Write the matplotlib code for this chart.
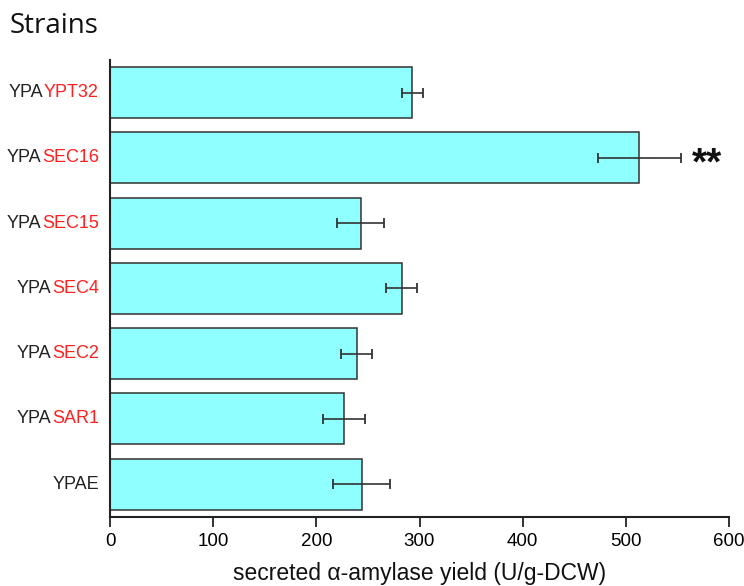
import matplotlib.pyplot as plt

plt.rcParams['font.family'] = ['Liberation Sans', 'DejaVu Sans']

# bottom to top
genes = ['', 'SAR1', 'SEC2', 'SEC4', 'SEC15', 'SEC16', 'YPT32']
yields = [244, 227, 239, 283, 243, 513, 293]
errors = [27.5, 20.5, 15, 15, 22.5, 40, 10]
signif = ['', '', '', '', '', '**', '']

fig = plt.figure(figsize=(7.44, 5.86), dpi=100)
ax = fig.add_axes([110/744, 1-516.7/586, 619/744, 456.7/586])

pos = list(range(len(genes)))
ax.barh(pos, yields, height=0.78, color='#8FFFFF', edgecolor='#333333', linewidth=1.1, zorder=2)
ax.errorbar(yields, pos, xerr=errors, fmt='none', ecolor='#333333', elinewidth=1.2,
            capsize=3.5, capthick=1.3, zorder=3)

ax.set_xlim(0, 600)
ax.set_ylim(-0.5, len(genes) - 0.5)
ax.set_xticks([0, 100, 200, 300, 400, 500, 600])
ax.tick_params(axis='x', direction='out', length=7, width=1.3, labelsize=13.5, pad=5, color='#222222')
ax.set_yticks([])
for s in ['top', 'right']:
    ax.spines[s].set_visible(False)
for s in ['left', 'bottom']:
    ax.spines[s].set_linewidth(1.5)
    ax.spines[s].set_color('#222222')

# two-colour strain labels
for i, g in enumerate(genes):
    if g == '':
        ax.annotate('YPAE', xy=(0, i), xycoords=('axes fraction', 'data'), xytext=(-8, 0),
                    textcoords='offset points', ha='right', va='center', fontsize=13, color='#222222')
        continue
    red = ax.annotate(g, xy=(0, i), xycoords=('axes fraction', 'data'), xytext=(-8, 0),
                      textcoords='offset points', ha='right', va='center', fontsize=13, color='#FF2020')
    ax.annotate('YPA', xy=(0, 0.5), xycoords=red, xytext=(-0.3, 0), textcoords='offset points',
                ha='right', va='center', fontsize=13, color='#222222')

for i, s in enumerate(signif):
    if s:
        ax.annotate(s, xy=(yields[i] + errors[i], i), xytext=(8, -5), textcoords='offset points',
                    ha='left', va='center', fontsize=28, fontweight='bold', color='#111111')

fig.text(10/744, 1 - 33/586, 'Strains', fontsize=20, family='Open Sans', ha='left', va='baseline',
         color='#111111')
fig.text((110 + 619/2)/744, 1 - 580/586, 'secreted \u03b1-amylase yield (U/g-DCW)', fontsize=16.5,
         ha='center', va='baseline', color='#111111')

fig.savefig('out.png', dpi=100)
